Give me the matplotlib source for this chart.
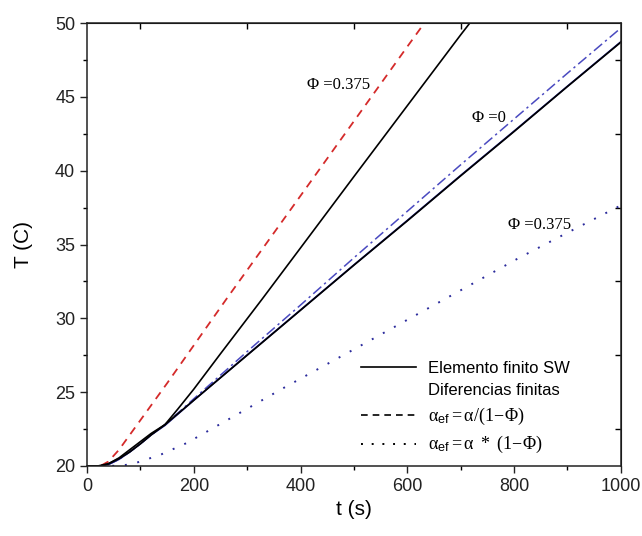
import numpy as np
import matplotlib
matplotlib.use('Agg')
import matplotlib.pyplot as plt
from matplotlib.lines import Line2D

plt.rcParams['font.family'] = ['Liberation Sans', 'DejaVu Sans']
plt.rcParams['mathtext.fontset'] = 'custom'
plt.rcParams['mathtext.rm'] = 'Liberation Serif'
plt.rcParams['mathtext.it'] = 'Liberation Serif:italic'
plt.rcParams['mathtext.sf'] = 'Liberation Sans'

# elemento finito, Phi = 0.375 (negra empinada)
t_fe1 = [0, 20, 40, 60, 80, 100, 120, 146, 170, 200, 250, 328, 400, 500, 600, 700, 730]
T_fe1 = [20, 20, 20.15, 20.5, 20.95, 21.5, 22.1, 22.8, 23.85, 25.2, 27.6, 31.3, 34.77, 39.6, 44.4, 49.2, 50.6]

# elemento finito, Phi = 0
t_fe0 = [0, 25, 40, 60, 80, 100, 120, 146, 200, 300, 400, 500, 600, 700, 800, 900, 1000]
T_fe0 = [20, 20, 20.15, 20.55, 21.1, 21.65, 22.2, 22.8, 24.45, 27.5, 30.55, 33.6, 36.6, 39.65, 42.65, 45.7, 48.7]

# diferencias finitas, Phi = 0
t_df0 = [0, 25, 40, 60, 80, 100, 120, 146, 200, 300, 400, 500, 600, 700, 800, 900, 1000]
T_df0 = [20, 20, 20.1, 20.45, 20.95, 21.5, 22.1, 22.75, 24.45, 27.52, 30.57, 33.62, 36.63, 39.68, 42.68, 45.72, 48.73]

# Phi = 0 (raya-punto)
t_phi0 = [0, 25, 40, 60, 80, 100, 120, 146, 200, 300, 400, 500, 600, 700, 800, 900, 1000]
T_phi0 = [20, 20, 20.1, 20.45, 20.95, 21.5, 22.1, 22.8, 24.55, 27.75, 30.9, 34.1, 37.25, 40.4, 43.5, 46.6, 49.66]

# alpha_ef = alpha/(1-Phi)
t_div = [0, 25, 40, 60, 80, 100, 150, 262, 400, 500, 600, 640]
T_div = [20, 20, 20.3, 21.1, 22.1, 23.1, 25.6, 31.35, 38.3, 43.35, 48.4, 50.4]

# alpha_ef = alpha*(1-Phi)
t_mul = [0, 40, 60, 80, 100, 140, 187, 250, 369, 500, 600, 700, 807, 900, 1000]
T_mul = [20, 20, 20.03, 20.1, 20.3, 20.8, 21.56, 22.85, 25.3, 27.9, 29.9, 31.9, 34.05, 35.8, 37.65]

fig = plt.figure(figsize=(6.42, 5.36), dpi=100)
ax = fig.add_axes([0.1355, 0.1306, 0.8315, 0.8264])

ax.plot(t_div, T_div, color='#d42a2a', lw=1.3, linestyle=(0, (4.5, 3.5)))
ax.plot(t_mul, T_mul, color='#2b2b9c', lw=1.4, linestyle=(0, (1, 5.5)))
ax.plot(t_phi0, T_phi0, color='#4a4ac0', lw=1.1, linestyle=(0, (7, 2.5, 1.5, 2.5)))
ax.plot(t_df0, T_df0, color='#1c1c8a', lw=1.2)
ax.plot(t_fe0, T_fe0, color='black', lw=1.2)
ax.plot(t_fe1, T_fe1, color='black', lw=1.2)

ax.text(412, 45.8, 'Φ =0.375', fontsize=12, family='Liberation Serif', va='center')
ax.text(722, 43.6, 'Φ =0', fontsize=12, family='Liberation Serif', va='center')
ax.text(788, 36.3, 'Φ =0.375', fontsize=12, family='Liberation Serif', va='center')

ax.set_xlim(0, 1000)
ax.set_ylim(20, 50)
ax.set_xticks(np.arange(0, 1001, 200))
ax.set_xticks(np.arange(100, 1000, 200), minor=True)
ax.set_yticks(np.arange(20, 51, 5))
ax.set_yticks(np.arange(22.5, 50, 5), minor=True)
ax.tick_params(which='major', direction='out', length=5, width=1.0, labelsize=13, colors='#222222')
ax.tick_params(which='minor', direction='out', length=3, width=1.0)
for s in ax.spines.values():
    s.set_linewidth(1.1)
    s.set_color('#222222')

top = ax.secondary_xaxis('top')
top.set_xticks(np.arange(100, 1000, 200))
top.tick_params(direction='in', length=4, width=1.0, labeltop=False)
right = ax.secondary_yaxis('right')
right.set_yticks(np.arange(22.5, 50, 5))
right.tick_params(direction='in', length=4, width=1.0, labelright=False)

ax.set_xlabel('t (s)', fontsize=15, labelpad=4)
ax.set_ylabel('T (C)', fontsize=15, labelpad=16)

handles = [Line2D([], [], color='black', lw=1.2),
           Line2D([], [], color='none'),
           Line2D([], [], color='black', lw=1.2, linestyle=(0, (4, 3))),
           Line2D([], [], color='black', lw=1.4, linestyle=(0, (1, 4.5)))]
labels = ['Elemento finito SW', 'Diferencias finitas',
          r'$\mathrm{\alpha}_{\mathsf{ef}} = \mathrm{\alpha}/(1\!-\!\mathrm{\Phi})$',
          r'$\mathrm{\alpha}_{\mathsf{ef}} = \mathrm{\alpha}\ *\ (1\!-\!\mathrm{\Phi})$']
leg = ax.legend(handles, labels, loc='lower left', bbox_to_anchor=(0.485, -0.01),
                frameon=False, fontsize=12, handlelength=3.3, handletextpad=0.7,
                labelspacing=0.45)
for txt in leg.get_texts()[2:]:
    txt.set_fontsize(13)

fig.savefig('out.png', dpi=100)
